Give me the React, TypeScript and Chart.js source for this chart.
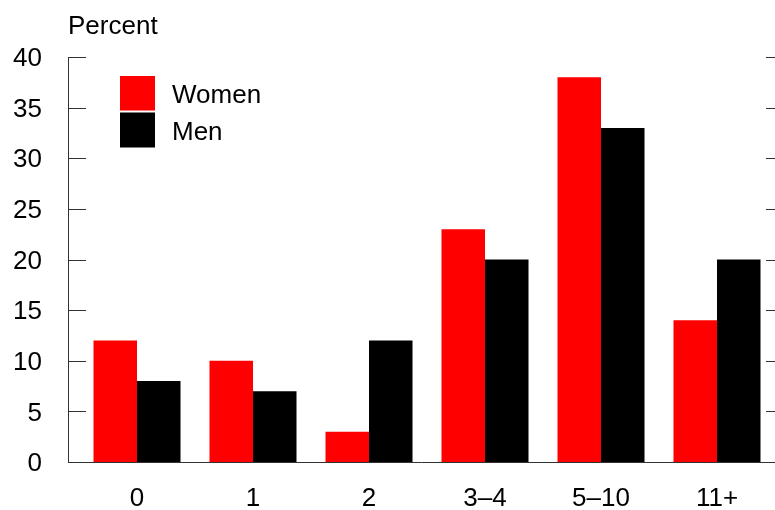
import React, { useEffect, useRef } from "react";
import { Chart, registerables } from "chart.js";

Chart.register(...registerables);

const categories = ["0", "1", "2", "3–4", "5–10", "11+"];
const women = [12, 10, 3, 23, 38, 14];
const men = [8, 7, 12, 20, 33, 20];
const yTicks = [0, 5, 10, 15, 20, 25, 30, 35, 40];
const seriesNames = ["Women", "Men"];
const seriesColors = ["#ff0000", "#000000"];
const yTitle = "Percent";

const FONT = "'Liberation Sans', Arial, sans-serif";
const FS = 26;

const decor = {
  id: "decor",
  afterDraw(chart: any) {
    const ctx = chart.ctx;
    const y = chart.scales.y;
    const area = chart.chartArea;
    const axisX = 68.5;
    ctx.save();
    ctx.strokeStyle = "#333333";
    ctx.lineWidth = 1;
    const yTop = y.getPixelForValue(yTicks[yTicks.length - 1]);
    const yBot = y.getPixelForValue(0);
    ctx.beginPath();
    ctx.moveTo(axisX, Math.round(yTop) + 0.5);
    ctx.lineTo(axisX, Math.round(yBot) + 0.5);
    ctx.moveTo(68, Math.round(yBot) + 0.5);
    ctx.lineTo(area.right, Math.round(yBot) + 0.5);
    for (const v of yTicks) {
      const py = Math.round(y.getPixelForValue(v)) + 0.5;
      ctx.moveTo(68, py);
      ctx.lineTo(86, py);
      ctx.moveTo(area.right - 9, py);
      ctx.lineTo(area.right, py);
    }
    ctx.stroke();

    ctx.fillStyle = "#000";
    ctx.font = `${FS}px ${FONT}`;
    ctx.textAlign = "left";
    ctx.textBaseline = "alphabetic";
    ctx.fillText(yTitle, 68, 34);

    // legend
    const ds = chart.data.datasets;
    const boxX = 120;
    const boxW = 35;
    const tops = [76, 112.5];
    const heights = [34.5, 35];
    ds.forEach((d: any, i: number) => {
      ctx.fillStyle = d.backgroundColor;
      ctx.fillRect(boxX, tops[i], boxW, heights[i]);
      ctx.fillStyle = "#000";
      ctx.fillText(d.label, 172, tops[i] + 27);
    });
    ctx.restore();
  },
};

export default function App() {
  const ref = useRef<HTMLCanvasElement | null>(null);
  useEffect(() => {
    if (!ref.current) return;
    const chart = new Chart(ref.current, {
      type: "bar",
      data: {
        labels: categories,
        datasets: [
          { label: seriesNames[0], data: women, backgroundColor: seriesColors[0], borderWidth: 0 },
          { label: seriesNames[1], data: men, backgroundColor: seriesColors[1], borderWidth: 0 },
        ],
      },
      options: {
        animation: false,
        responsive: false,
        maintainAspectRatio: false,
        layout: { padding: { top: 57, left: 0, right: 0, bottom: 0 } },
        datasets: { bar: { categoryPercentage: 0.75, barPercentage: 1 } },
        plugins: { legend: { display: false }, tooltip: { enabled: false }, title: { display: false } },
        scales: {
          x: {
            offset: true,
            grid: { display: false, drawTicks: false },
            border: { display: false },
            ticks: { color: "#000", font: { family: FONT, size: FS }, padding: 21, maxRotation: 0 },
            afterFit: (s: any) => { s.height = 48; },
          },
          y: {
            min: 0,
            max: 40,
            grid: { display: false, drawTicks: false },
            border: { display: false },
            ticks: { color: "#000", font: { family: FONT, size: FS, lineHeight: "18px" }, padding: 37, stepSize: 5, labelOffset: 2 },
            afterFit: (s: any) => { s.width = 79; },
          },
        },
      },
      plugins: [decor],
    });
    return () => chart.destroy();
  }, []);
  return (
    <div style={{ position: "fixed", left: 0, top: 0, width: 775, height: 510, background: "#fff" }}>
      <canvas ref={ref} width={775} height={510} style={{ display: "block" }} />
    </div>
  );
}
